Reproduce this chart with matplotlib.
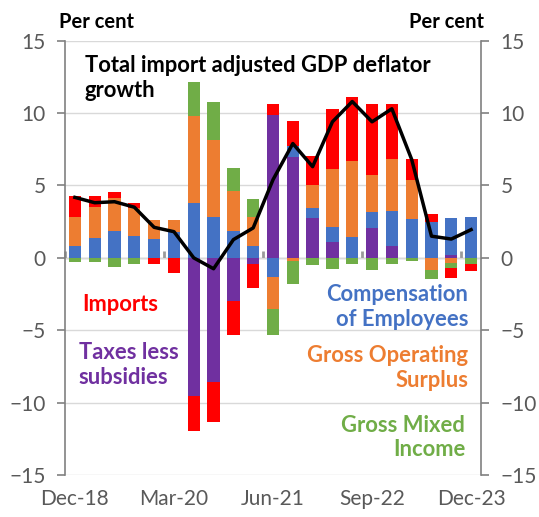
import matplotlib
matplotlib.use("Agg")
import matplotlib.pyplot as plt
import numpy as np

plt.rcParams['font.family'] = ['Lato', 'DejaVu Sans']

quarters = ['Dec-18', 'Mar-19', 'Jun-19', 'Sep-19', 'Dec-19', 'Mar-20', 'Jun-20',
            'Sep-20', 'Dec-20', 'Mar-21', 'Jun-21', 'Sep-21', 'Dec-21', 'Mar-22',
            'Jun-22', 'Sep-22', 'Dec-22', 'Mar-23', 'Jun-23', 'Sep-23', 'Dec-23']

# contributions, percentage points
taxes = [0, 0, 0, 0, 0, 0, -9.55, -8.6, -3.0, -0.45, 9.85, 7.0, 2.75, 1.1,
         0, 2.05, 0.85, 0, 0, 0.2, 0]
coe = [0.85, 1.35, 1.85, 1.5, 1.3, 1.82, 3.8, 2.85, 1.85, 0.85, -1.3, 0.7, 0.7, 1.0,
       1.45, 1.1, 2.4, 2.7, 2.45, 2.55, 2.82]
gos = [2.0, 2.15, 2.3, 1.95, 1.3, 0.83, 6.0, 5.3, 2.8, 2.0, -2.25, -0.25, 1.55, 4.05,
       5.25, 2.55, 3.6, 2.65, -0.85, -0.35, 0]
gmi = [-0.3, -0.3, -0.6, -0.45, 0, 0, 2.35, 2.65, 1.55, 1.2, -1.75, -1.55, -0.5, -0.8,
       -0.4, -0.85, -0.4, -0.25, -0.6, -0.35, -0.45]
imports = [1.4, 0.76, 0.38, 0.33, -0.45, -1.05, -2.4, -2.75, -2.3, -1.6, 0.75, 1.75,
           2.05, 4.15, 4.4, 4.9, 3.75, 1.45, 0.55, -0.7, -0.46]
total = [4.18, 3.81, 3.88, 3.5, 2.11, 1.81, 0.0, -0.75, 1.26, 2.07, 5.4, 7.9, 6.3,
         9.4, 10.8, 9.4, 10.3, 6.8, 1.5, 1.3, 1.95]

series = [('Taxes less\nsubsidies', taxes, '#7030A0'),
          ('Compensation\nof Employees', coe, '#4472C4'),
          ('Gross Operating\nSurplus', gos, '#ED7D31'),
          ('Gross Mixed\nIncome', gmi, '#70AD47'),
          ('Imports', imports, '#FF0000')]

fig = plt.figure(figsize=(5.39, 5.17), dpi=100)
ax = fig.add_axes([0.1206, 0.0812, 0.7718, 0.8400])

x = np.arange(len(quarters))
pos_base = np.zeros(len(x))
neg_base = np.zeros(len(x))
for name, vals, col in series:
    v = np.array(vals, dtype=float)
    base = np.where(v >= 0, pos_base, neg_base)
    ax.bar(x, v, bottom=base, width=0.62, color=col, zorder=2)
    pos_base += np.where(v >= 0, v, 0)
    neg_base += np.where(v < 0, v, 0)

ax.plot(x, total, color='black', lw=2.5, zorder=4)

ax.set_xlim(-0.5, len(x) - 0.5)
ax.set_ylim(-15, 15)
ax.set_yticks(np.arange(-15, 16, 5))
ax.grid(axis='y', color='#D9D9D9', lw=1, zorder=0)
ax.set_axisbelow(True)

ax.set_xticks(x[::5])
ax.set_xticklabels(quarters[::5])
ax.tick_params(axis='x', length=0, pad=10, labelsize=15, labelcolor='#595959')
ax.tick_params(axis='y', direction='out', length=6, width=1.2, color='#808080',
               labelsize=15, labelcolor='#595959', right=True, labelright=True, pad=8)

for s in ['top', 'bottom']:
    ax.spines[s].set_visible(False)
for s in ['left', 'right']:
    ax.spines[s].set_color('#808080')
    ax.spines[s].set_linewidth(1.2)

# horizontal axis crossing at zero, with tick marks between categories
zax = ax.secondary_xaxis(0.5)
zax.set_xticks(np.arange(-0.5, len(x), 5))
zax.set_xticklabels([])
zax.tick_params(length=5, width=2, color='#9A9A9A')
zax.spines['bottom'].set_color('#8C8C8C')
zax.spines['bottom'].set_linewidth(2.2)

ax.text(-0.015, 1.02, 'Per cent', transform=ax.transAxes, fontsize=14.5,
        fontweight='bold', ha='left', va='bottom')
ax.text(1.008, 1.02, 'Per cent', transform=ax.transAxes, fontsize=14.5,
        fontweight='bold', ha='right', va='bottom')
ax.text(0.5, 14.0, 'Total import adjusted GDP deflator\ngrowth', fontsize=15.8,
        fontweight='bold', ha='left', va='top', linespacing=1.25)

ax.text(0.35, -3.2, 'Imports', color='#FF0000', fontsize=15.8, fontweight='bold',
        ha='left', va='center')
ax.text(0.2, -7.4, 'Taxes less\nsubsidies', color='#7030A0', fontsize=15.8,
        fontweight='bold', ha='left', va='center', linespacing=1.2)
ax.text(19.85, -3.4, 'Compensation\nof Employees', color='#4472C4', fontsize=15.8,
        fontweight='bold', ha='right', va='center', linespacing=1.2)
ax.text(19.85, -7.6, 'Gross Operating\nSurplus', color='#ED7D31', fontsize=15.8,
        fontweight='bold', ha='right', va='center', linespacing=1.2)
ax.text(19.7, -12.4, 'Gross Mixed\nIncome', color='#70AD47', fontsize=15.8,
        fontweight='bold', ha='right', va='center', linespacing=1.2)

fig.savefig('out.png', dpi=100)
